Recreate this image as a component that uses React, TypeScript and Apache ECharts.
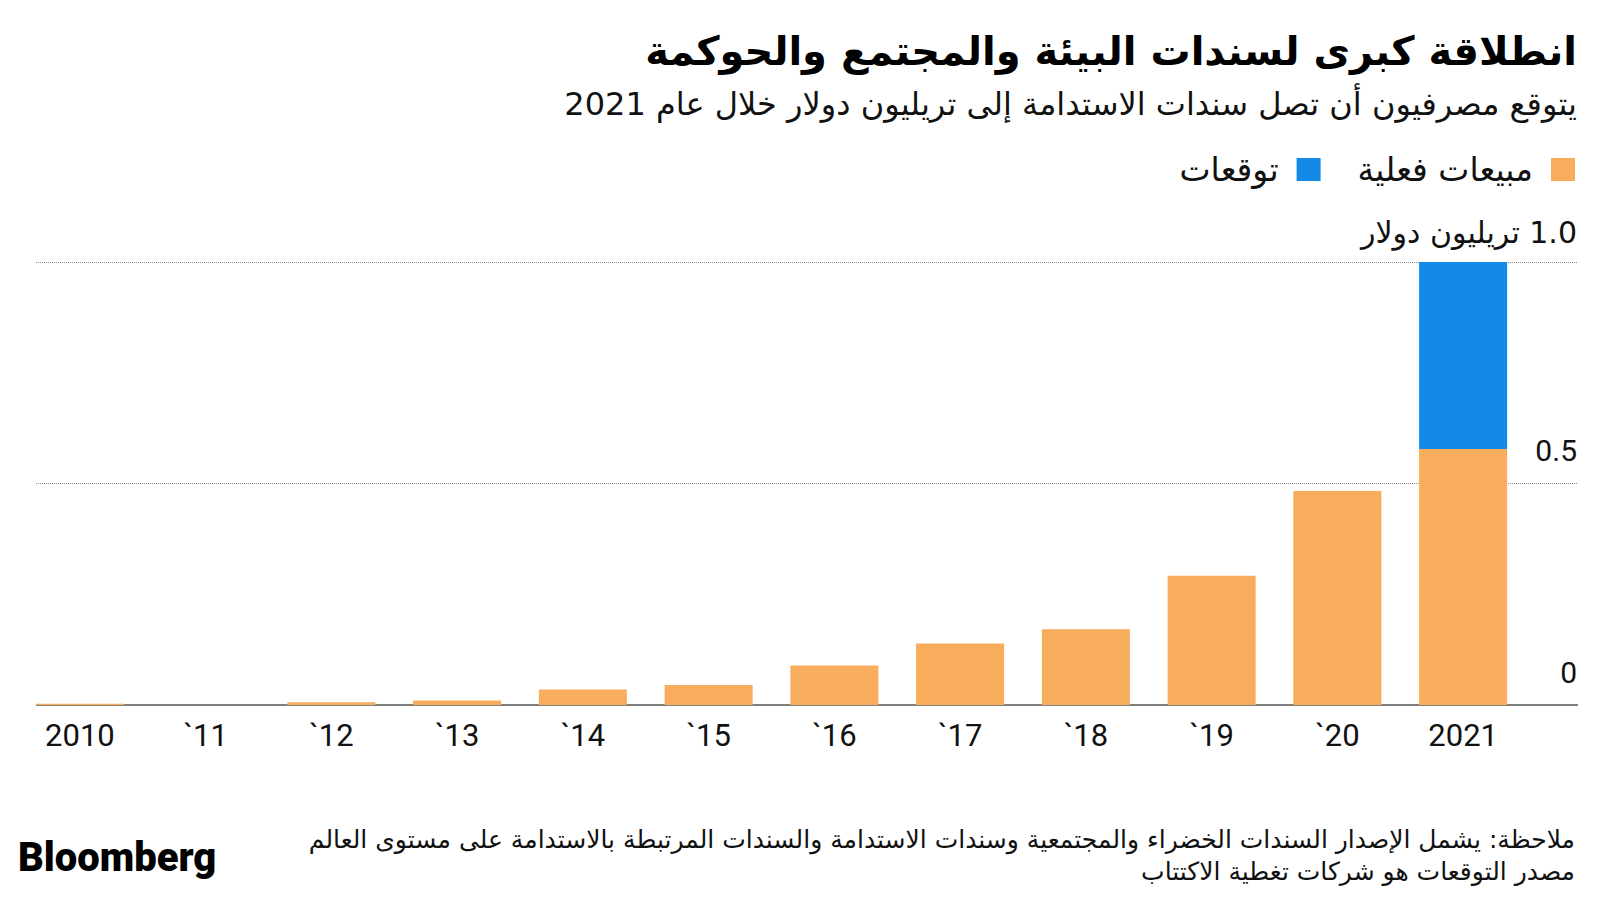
import React, { useEffect, useRef } from "react";
import * as echarts from "echarts";

const categories = ["2010", "`11", "`12", "`13", "`14", "`15", "`16", "`17", "`18", "`19", "`20", "2021"];
const actualSales = [0.003, 0, 0.006, 0.01, 0.035, 0.045, 0.089, 0.139, 0.171, 0.292, 0.483, 0.578];
const forecast = [null, null, null, null, null, null, null, null, null, null, null, 0.422];
const yTicks = [0, 0.5, 1.0];
const yTickLabels = ["0", "0.5", "\u200F1.0 تريليون دولار"];

const TITLE = "انطلاقة كبرى لسندات البيئة والمجتمع والحوكمة";
const SUBTITLE = "يتوقع مصرفيون أن تصل سندات الاستدامة إلى تريليون دولار خلال عام 2021";
const NOTE1 = "ملاحظة: يشمل الإصدار السندات الخضراء والمجتمعية وسندات الاستدامة والسندات المرتبطة بالاستدامة على مستوى العالم";
const NOTE2 = "مصدر التوقعات هو شركات تغطية الاكتتاب";
const SERIES_ACTUAL = "مبيعات فعلية";
const SERIES_FORECAST = "توقعات";

const ORANGE = "#F7AD5C";
const BLUE = "#138AE7";
const AR_FONT = "'DejaVu Sans', 'Noto Sans', sans-serif";
const NUM_FONT = "Roboto, 'Liberation Sans', sans-serif";

export default function App() {
  const ref = useRef<HTMLDivElement>(null);
  useEffect(() => {
    document.body.style.margin = "0";
    if (!ref.current) return;
    const chart = echarts.init(ref.current, null, { renderer: "svg" });
    const gridLines = yTicks.map((v, i) => {
      const isZero = v === 0;
      return [
        {
          x: 36,
          yAxis: v,
          lineStyle: isZero
            ? { color: "#555", width: 1.5, type: "solid" }
            : { color: "#888", width: 1, type: "dotted" },
          label: {
            show: true,
            position: "insideEndTop",
            formatter: yTickLabels[i],
            distance: i === 2 ? [1, 15] : [1, 18],
            color: "#111",
            fontSize: 30,
            fontFamily: i === 2 ? AR_FONT : NUM_FONT,
          },
        },
        { x: 1578, yAxis: v },
      ];
    });
    chart.setOption({
      animation: false,
      backgroundColor: "#fff",
      grid: { left: 17, top: 262, width: 1509, bottom: 196, containLabel: false },
      legend: {
        right: 25,
        top: 153,
        padding: 0,
        align: "right",
        itemWidth: 24,
        itemHeight: 23,
        itemGap: 37,
        icon: "rect",
        data: [SERIES_FORECAST, SERIES_ACTUAL],
        textStyle: { fontSize: 33, fontFamily: AR_FONT, color: "#111", padding: [0, 13, 0, 0] },
      },
      xAxis: {
        type: "category",
        data: categories,
        axisLine: { show: false },
        axisTick: { show: false },
        axisLabel: { fontSize: 31, fontFamily: NUM_FONT, color: "#111", margin: 15 },
      },
      yAxis: { type: "value", min: 0, max: 1, show: false, splitLine: { show: false } },
      series: [
        {
          name: SERIES_ACTUAL,
          type: "bar",
          stack: "total",
          data: actualSales,
          barWidth: "70%",
          itemStyle: { color: ORANGE },
          markLine: { silent: true, symbol: "none", animation: false, data: gridLines, z: 1 },
          z: 3,
        },
        {
          name: SERIES_FORECAST,
          type: "bar",
          stack: "total",
          data: forecast,
          barWidth: "70%",
          itemStyle: { color: BLUE },
          z: 3,
        },
      ],
      graphic: [
        {
          type: "text",
          style: { text: TITLE, x: 1577, y: 51, align: "right", verticalAlign: "middle", fontSize: 40, fontWeight: "bold", fontFamily: AR_FONT, fill: "#000" },
        },
        {
          type: "text",
          style: { text: SUBTITLE, x: 1577, y: 104, align: "right", verticalAlign: "middle", fontSize: 32, fontFamily: AR_FONT, fill: "#111" },
        },
        {
          type: "text",
          style: { text: NOTE1, x: 1575, y: 839, align: "right", verticalAlign: "middle", fontSize: 25, fontFamily: AR_FONT, fill: "#111" },
        },
        {
          type: "text",
          style: { text: NOTE2, x: 1575, y: 871, align: "right", verticalAlign: "middle", fontSize: 25, fontFamily: AR_FONT, fill: "#111" },
        },
        {
          type: "text",
          style: { text: "Bloomberg", x: 18, y: 857, align: "left", verticalAlign: "middle", fontSize: 40, fontWeight: 900, fontFamily: NUM_FONT, fill: "#000" },
        },
      ],
    });
    return () => chart.dispose();
  }, []);
  return <div ref={ref} style={{ width: 1600, height: 901 }} />;
}
